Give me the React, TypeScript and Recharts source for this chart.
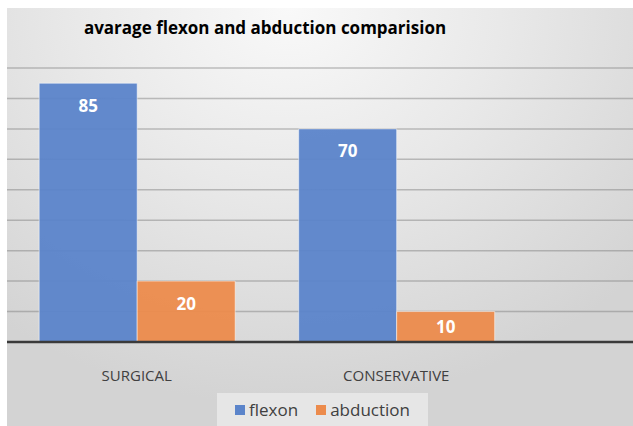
import React from "react";
import { BarChart, Bar, XAxis, YAxis, CartesianGrid, Legend, LabelList } from "recharts";

const CATEGORIES = ["SURGICAL", "CONSERVATIVE"];
const FLEXON = [85, 70];
const ABDUCTION = [20, 10];
const SERIES = ["flexon", "abduction"];
const Y_TICKS = [0, 10, 20, 30, 40, 50, 60, 70, 80, 90];

const BLUE = "#5b84ca";
const ORANGE = "#ec8b4c";
const TEXT = "#404040";

const data = CATEGORIES.map((name, i) => ({
  name,
  flexon: FLEXON[i],
  abduction: ABDUCTION[i],
}));

function ValueLabel(props: any) {
  const { x, y, width, height, value } = props;
  const cy = y + Math.min(22, height / 2);
  return (
    <text
      x={x + width / 2}
      y={cy}
      textAnchor="middle"
      dominantBaseline="central"
      fill="#ffffff"
      fontFamily="Open Sans, sans-serif"
      fontWeight={700}
      fontSize={17}
    >
      {value}
    </text>
  );
}

function LegendBox(props: any) {
  const items = [...(props.payload || [])].sort(
    (a: any, b: any) => SERIES.indexOf(a.value) - SERIES.indexOf(b.value)
  );
  return (
    <div
      style={{
        display: "flex",
        justifyContent: "center",
        alignItems: "center",
        height: "100%",
        background: "#e6e6e6",
        fontFamily: "Open Sans, sans-serif",
        fontSize: 17,
        color: TEXT,
      }}
    >
      {items.map((it: any) => (
        <span key={it.value} style={{ display: "flex", alignItems: "center", margin: "0 9px" }}>
          <span style={{ width: 10, height: 10, background: it.color, marginRight: 4 }} />
          {it.value}
        </span>
      ))}
    </div>
  );
}

export default function App() {
  return (
    <div style={{ position: "absolute", left: 0, top: 0, width: 633, height: 426, background: "#fff" }}>
      <div
        style={{
          position: "absolute",
          left: 7,
          top: 8,
          width: 626,
          height: 418,
          background: "radial-gradient(ellipse 75% 95% at 45% 0%, #f9f9f9 0%, #e9e9e9 45%, #d3d3d3 100%)",
        }}
      >
        <div
          style={{
            position: "absolute",
            left: 0,
            width: 516,
            top: 8,
            textAlign: "center",
            fontFamily: "Open Sans, sans-serif",
            fontWeight: 700,
            fontSize: 17,
            color: "#000",
          }}
        >
          avarage flexon and abduction comparision
        </div>
        <BarChart
          width={626}
          height={418}
          data={data}
          margin={{ top: 60, right: 0, left: 0, bottom: 54 }}
          barCategoryGap="12.4%"
          barGap={0}
        >
          <CartesianGrid
            vertical={false}
            stroke="#7a7a7a"
            strokeOpacity={0.45}
            strokeWidth={1.5}
          />
          <YAxis hide domain={[0, 90]} ticks={Y_TICKS} />
          <XAxis
            dataKey="name"
            height={30}
            padding={{ left: 0, right: 107 }}
            axisLine={{ stroke: "#3a3a3a", strokeWidth: 2.5 }}
            tickLine={false}
            tickMargin={22}
            tick={{ fill: TEXT, fontSize: 15, fontFamily: "Open Sans, sans-serif" }}
          />
          <Legend
            layout="horizontal"
            verticalAlign="middle"
            align="center"
            wrapperStyle={{ left: 210, top: 385, width: 211, height: 33 }}
            content={<LegendBox />}
          />
          <Bar
            dataKey="flexon"
            name="flexon"
            fill={BLUE}
            fillOpacity={0.95}
            stroke="#ffffff"
            strokeOpacity={0.5}
            isAnimationActive={false}
          >
            <LabelList dataKey="flexon" content={<ValueLabel />} />
          </Bar>
          <Bar
            dataKey="abduction"
            name="abduction"
            fill={ORANGE}
            fillOpacity={0.95}
            stroke="#ffffff"
            strokeOpacity={0.5}
            isAnimationActive={false}
          >
            <LabelList dataKey="abduction" content={<ValueLabel />} />
          </Bar>
        </BarChart>
      </div>
    </div>
  );
}
